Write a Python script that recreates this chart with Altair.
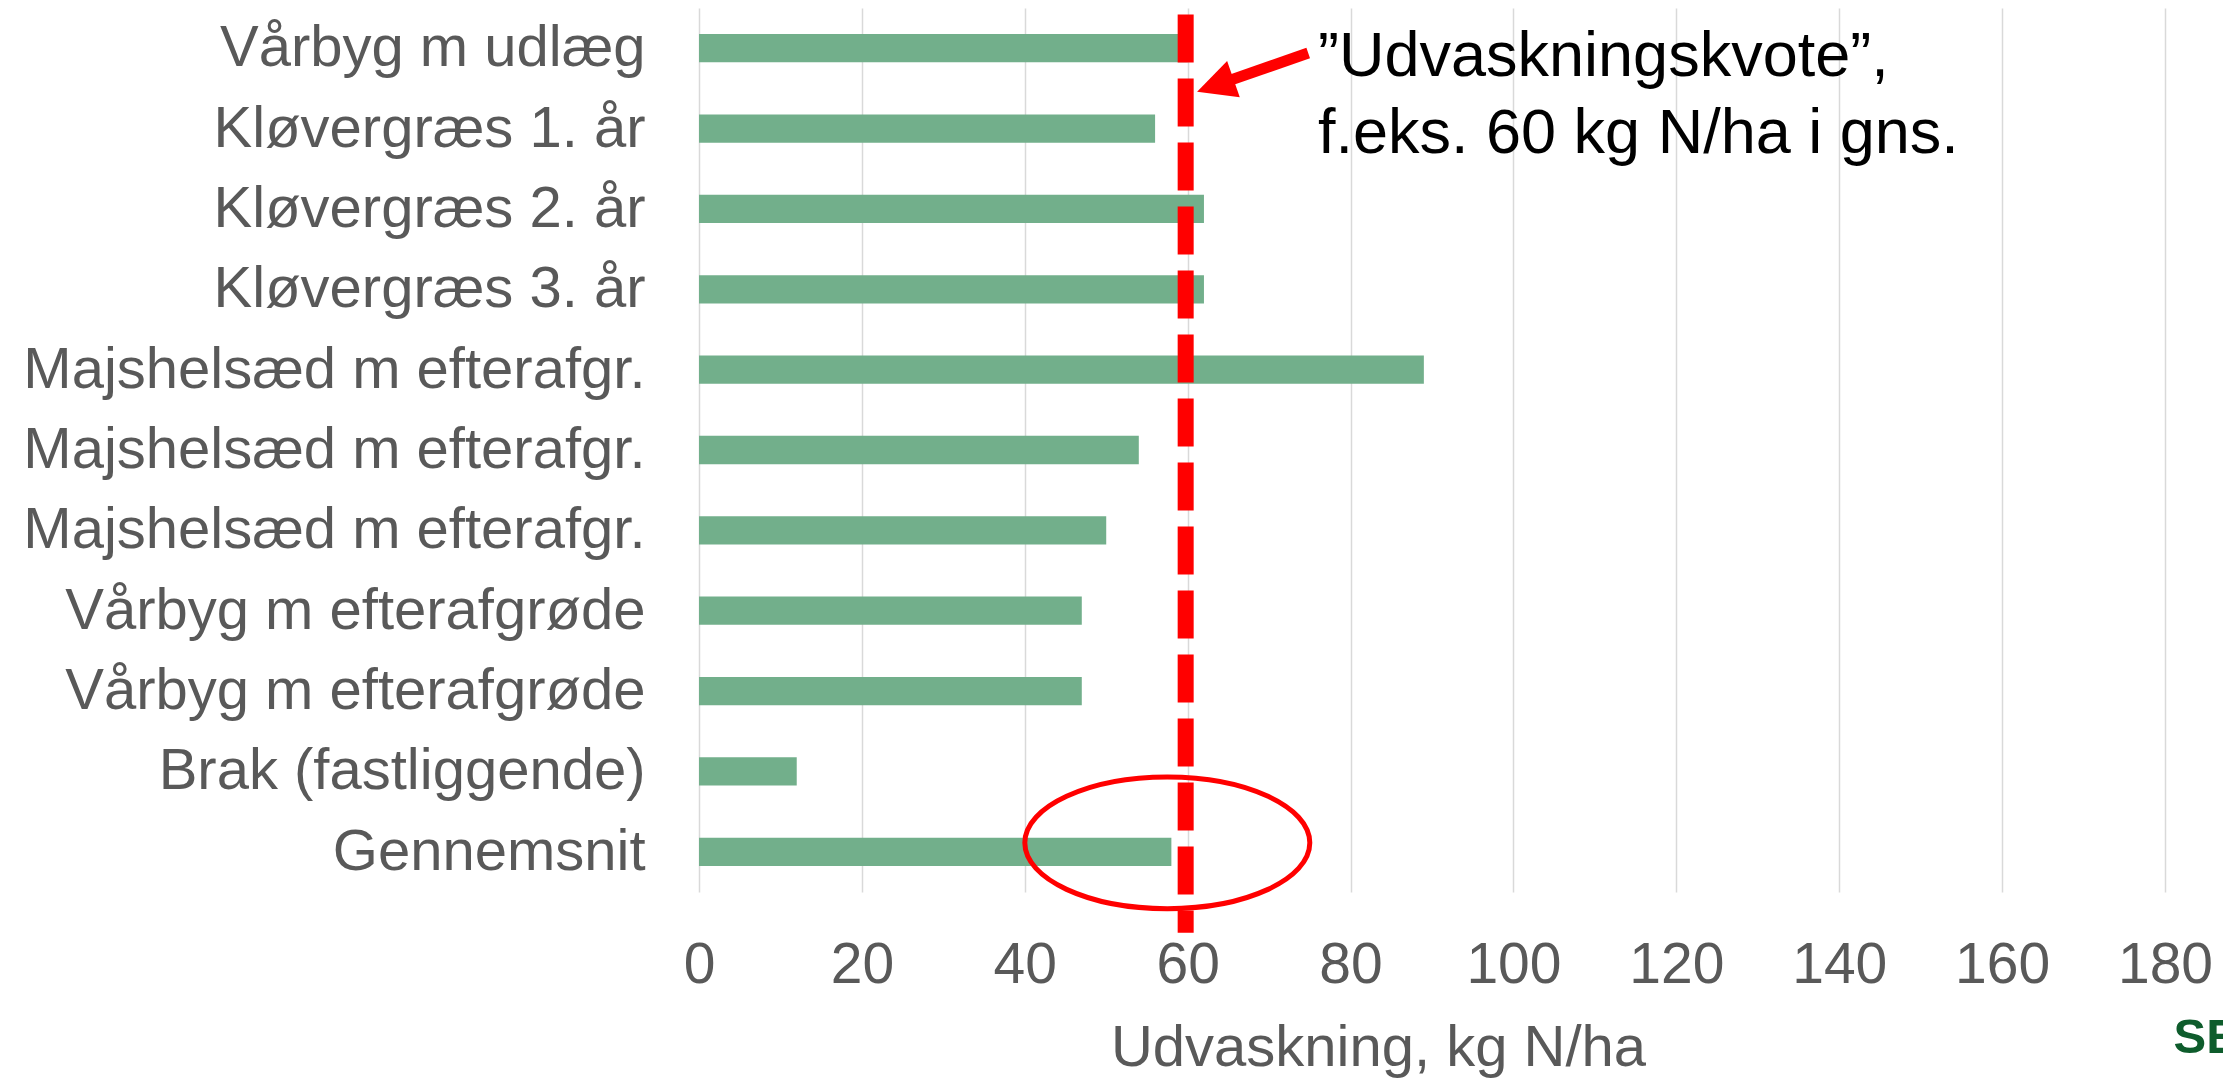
import json
import altair as alt
import pandas as pd

# ---- data ----
categories = [
    "Vårbyg m udlæg",
    "Kløvergræs 1. år",
    "Kløvergræs 2. år",
    "Kløvergræs 3. år",
    "Majshelsæd m efterafgr.",
    "Majshelsæd m efterafgr.",
    "Majshelsæd m efterafgr.",
    "Vårbyg m efterafgrøde",
    "Vårbyg m efterafgrøde",
    "Brak (fastliggende)",
    "Gennemsnit",
]
values = [60, 56, 62, 62, 89, 54, 50, 47, 47, 12, 58]
x_ticks = [0, 20, 40, 60, 80, 100, 120, 140, 160, 180]
quota = [60]
note_lines = ["\u201dUdvaskningskvote\u201d,", "f.eks. 60 kg N/ha i gns."]
x_title = "Udvaskning, kg N/ha"
logo_text = "SEGES"

df = pd.DataFrame({"idx": list(range(len(categories))), "label": categories, "value": values})
df_avg = df[df["label"] == "Gennemsnit"]
df_quota = pd.DataFrame({"quota": quota})
one = pd.DataFrame({"a": [0]})

FONT = "Liberation Sans"
GREY = "#595959"
RED = "#FF0000"
W, H = 1466, 884

label_expr = json.dumps(categories, ensure_ascii=False) + "[datum.value]"

x_scale = alt.Scale(domain=[0, 180], nice=False, zero=True)
y_scale = alt.Scale(paddingInner=0.648, paddingOuter=0.324)

bars = alt.Chart(df).mark_bar(color="#72AF8B").encode(
    x=alt.X(
        "value:Q",
        scale=x_scale,
        axis=alt.Axis(
            values=x_ticks,
            title=x_title,
            grid=True,
            gridColor="#D9D9D9",
            gridWidth=1.5,
            domain=False,
            ticks=False,
            tickSize=0,
            labelFlush=False,
            labelFont=FONT,
            labelFontSize=57,
            labelColor=GREY,
            labelPadding=45,
            titleFont=FONT,
            titleFontSize=58,
            titleFontWeight="normal",
            titleColor=GREY,
            titleX=679,
            titleY=173,
            titleAlign="center",
            titleBaseline="alphabetic",
        ),
    ),
    y=alt.Y(
        "idx:O",
        scale=y_scale,
        axis=alt.Axis(
            title=None,
            labelExpr=label_expr,
            domain=False,
            ticks=False,
            tickSize=0,
            grid=False,
            labelFont=FONT,
            labelFontSize=58,
            labelColor=GREY,
            labelPadding=54,
            labelOffset=1,
            labelLimit=0,
        ),
    ),
)

quota_rule = alt.Chart(df_quota).mark_rule(
    color=RED, strokeWidth=16, strokeDash=[48, 16], xOffset=-2
).encode(x="quota:Q", y=alt.value(6.4), y2=alt.value(924.7))

ellipse_path = (
    "M -1 0 C -1 -0.255 -0.552 -0.462 0 -0.462 "
    "C 0.552 -0.462 1 -0.255 1 0 "
    "C 1 0.255 0.552 0.462 0 0.462 "
    "C -0.552 0.462 -1 0.255 -1 0 Z"
)
ellipse = alt.Chart(df_avg).mark_point(
    shape=ellipse_path, size=285 ** 2, filled=False, stroke=RED,
    strokeWidth=5, opacity=1, yOffset=-9,
).encode(x=alt.datum(57.5), y="idx:O")

arrow_shaft = alt.Chart(one).mark_rule(color=RED, strokeWidth=11).encode(
    x=alt.datum(74.8), x2=alt.datum(63.4), y=alt.value(45), y2=alt.value(77.4)
)
arrow_head = alt.Chart(one).mark_point(
    shape="M 1 0 L -1 -1 L -1 1 Z", size=38.5 ** 2, filled=True,
    color=RED, opacity=1, angle=160.8,
).encode(x=alt.datum(63.39), y=alt.value(77.4))

note = alt.Chart(one).mark_text(
    align="left", baseline="alphabetic", font=FONT, fontSize=63,
    color="black", lineHeight=77.7,
).encode(x=alt.datum(76.0), y=alt.value(67.7), text=alt.value(note_lines))

logo = alt.Chart(one).mark_text(
    align="left", baseline="alphabetic", font=FONT, fontSize=49,
    fontWeight="bold", color="#0E5C2C",
).encode(x=alt.datum(181.05), y=alt.value(1045.4), text=alt.value(logo_text))

chart = (
    alt.layer(bars, quota_rule, ellipse, arrow_shaft, arrow_head, note, logo)
    .properties(
        width=W,
        height=H,
        padding={"left": 691, "top": 0, "right": 58, "bottom": 188},
        autosize=alt.AutoSizeParams(type="none"),
        background="white",
    )
    .configure_view(strokeWidth=0)
)

chart.save("out.html", embed_options={"renderer": "svg", "actions": False})
